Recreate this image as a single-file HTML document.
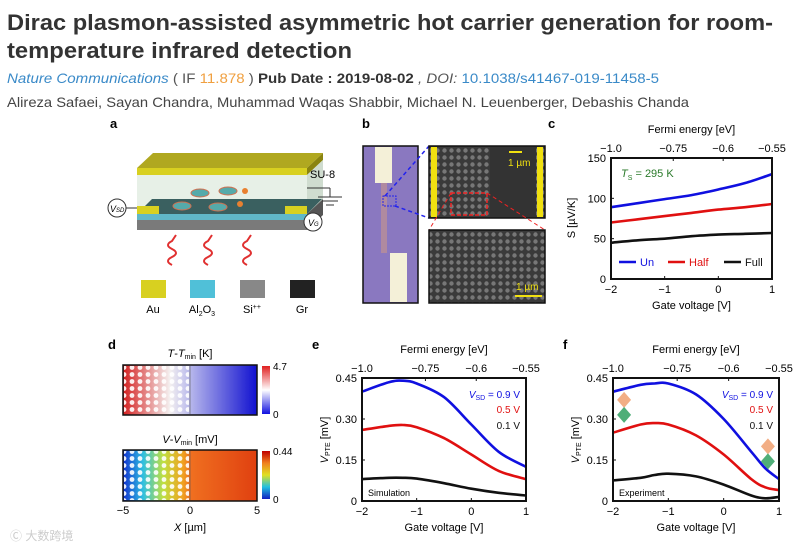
<!DOCTYPE html>
<html><head><meta charset="utf-8"><style>
body{margin:0;background:#fff}
svg text{font-family:"Liberation Sans","Noto Sans CJK SC",sans-serif}
</style></head><body>
<svg id="s" width="809" height="548" viewBox="0 0 809 548" xmlns="http://www.w3.org/2000/svg">
<defs>
<linearGradient id="gT" x1="0" x2="1"><stop offset="0" stop-color="#d42020"/><stop offset="0.35" stop-color="#f4f0f0"/><stop offset="0.5" stop-color="#b8b8ec"/><stop offset="1" stop-color="#1010d0"/></linearGradient>
<linearGradient id="gV" x1="0" x2="1"><stop offset="0" stop-color="#1030d0"/><stop offset="0.15" stop-color="#30c0e0"/><stop offset="0.3" stop-color="#c0e040"/><stop offset="0.45" stop-color="#f0a020"/><stop offset="0.5" stop-color="#f07020"/><stop offset="1" stop-color="#e04010"/></linearGradient>
<linearGradient id="cbT" x1="0" y1="0" x2="0" y2="1"><stop offset="0" stop-color="#e02020"/><stop offset="0.5" stop-color="#fff"/><stop offset="1" stop-color="#1010e0"/></linearGradient>
<linearGradient id="cbV" x1="0" y1="0" x2="0" y2="1"><stop offset="0" stop-color="#c00000"/><stop offset="0.25" stop-color="#f08020"/><stop offset="0.5" stop-color="#e0e020"/><stop offset="0.75" stop-color="#20c0e0"/><stop offset="1" stop-color="#1020c0"/></linearGradient>
<pattern id="holes" width="8" height="7" patternUnits="userSpaceOnUse"><circle cx="4" cy="3.5" r="2.4" fill="#fff" opacity="0.9"/></pattern>
<pattern id="sem" width="7" height="7" patternUnits="userSpaceOnUse"><rect width="7" height="7" fill="#3a3a3a"/><circle cx="3.5" cy="3.5" r="2.2" fill="#777"/></pattern>
</defs>
<!-- header -->
<text x="7" y="30" font-size="22" font-weight="bold" fill="#333" textLength="766" lengthAdjust="spacingAndGlyphs">Dirac plasmon-assisted asymmetric hot carrier generation for room-</text>
<text x="7" y="58" font-size="22" font-weight="bold" fill="#333" textLength="345" lengthAdjust="spacingAndGlyphs">temperature infrared detection</text>
<text x="7" y="83" font-size="14" textLength="652" lengthAdjust="spacingAndGlyphs"><tspan fill="#3a8ac8" font-style="italic">Nature Communications</tspan><tspan fill="#555"> ( IF </tspan><tspan fill="#f0a040">11.878</tspan><tspan fill="#555"> ) </tspan><tspan fill="#333" font-weight="bold">Pub Date : 2019-08-02</tspan><tspan fill="#555" font-style="italic"> , DOI: </tspan><tspan fill="#3a8ac8">10.1038/s41467-019-11458-5</tspan></text>
<text x="7" y="107" font-size="14" fill="#444" textLength="682" lengthAdjust="spacingAndGlyphs">Alireza Safaei, Sayan Chandra, Muhammad Waqas Shabbir, Michael N. Leuenberger, Debashis Chanda</text>

<!-- panel a -->
<g>
<text x="110" y="128" font-size="13" font-weight="bold">a</text>
<polygon points="153,153 323,153 307,168 137,168" fill="#b0a820"/>
<rect x="137" y="168" width="170" height="7" fill="#d8d020"/>
<polygon points="307,168 323,153 323,160 307,175" fill="#8a8410"/>
<rect x="137" y="175" width="170" height="32" fill="#e4eee4" opacity="0.9"/>
<polygon points="307,175 323,160 323,199 307,214" fill="#cfdccf"/>
<polygon points="152,199 322,199 307,214 137,214" fill="#3a6060"/>
<rect x="137" y="214" width="170" height="6" fill="#60b8c8"/>
<rect x="137" y="220" width="170" height="10" fill="#7a7a7a"/>
<polygon points="307,214 323,199 323,215 307,230" fill="#555"/>
<rect x="137" y="206" width="22" height="8" fill="#d8d020"/><rect x="285" y="206" width="22" height="8" fill="#d8d020"/>
<ellipse cx="182" cy="206" rx="9" ry="4" fill="#5aa" stroke="#d07050"/><ellipse cx="200" cy="193" rx="9" ry="4" fill="#5aa" stroke="#d07050"/><ellipse cx="218" cy="207" rx="9" ry="4" fill="#5aa" stroke="#d07050"/><ellipse cx="228" cy="191" rx="9" ry="4" fill="#5aa" stroke="#d07050"/>
<circle cx="240" cy="204" r="3" fill="#e88030"/><circle cx="245" cy="191" r="3" fill="#e88030"/>
<text x="310" y="178" font-size="11">SU-8</text>
<line x1="307" y1="188" x2="330" y2="188" stroke="#333"/><line x1="330" y1="188" x2="330" y2="197" stroke="#333"/>
<line x1="318" y1="197" x2="342" y2="197" stroke="#333"/><line x1="322" y1="201" x2="338" y2="201" stroke="#333"/><line x1="326" y1="205" x2="334" y2="205" stroke="#333"/>
<line x1="126" y1="208" x2="137" y2="208" stroke="#333"/>
<circle cx="117" cy="208" r="9" fill="#fff" stroke="#333"/><text x="110" y="212" font-size="9" font-style="italic">V<tspan font-size="6">SD</tspan></text>
<line x1="307" y1="222" x2="305" y2="222" stroke="#333"/>
<circle cx="313" cy="222" r="9" fill="#fff" stroke="#333"/><text x="308" y="226" font-size="9" font-style="italic">V<tspan font-size="6">G</tspan></text>
<g fill="none" stroke="#e03030" stroke-width="2">
<path d="M172,265 q-8,-4 0,-8 q8,-4 0,-8 q-8,-4 0,-8 l4,-6"/><path d="M208,265 q-8,-4 0,-8 q8,-4 0,-8 q-8,-4 0,-8 l4,-6"/><path d="M247,265 q-8,-4 0,-8 q8,-4 0,-8 q-8,-4 0,-8 l4,-6"/>
</g>
<rect x="141" y="280" width="25" height="18" fill="#d8d020"/><rect x="190" y="280" width="25" height="18" fill="#50c0d8"/><rect x="240" y="280" width="25" height="18" fill="#888"/><rect x="290" y="280" width="25" height="18" fill="#222"/>
<text x="153" y="313" font-size="11" text-anchor="middle">Au</text><text x="202" y="313" font-size="11" text-anchor="middle">Al<tspan font-size="7" dy="3">2</tspan><tspan dy="-3">O</tspan><tspan font-size="7" dy="3">3</tspan></text><text x="252" y="313" font-size="11" text-anchor="middle">Si<tspan font-size="7" dy="-4">++</tspan></text><text x="302" y="313" font-size="11" text-anchor="middle">Gr</text>
</g>

<!-- panel b -->
<g>
<text x="362" y="128" font-size="13" font-weight="bold">b</text>
<rect x="363" y="146" width="55" height="157" fill="#8a78c0" stroke="#111" stroke-width="1.5"/>
<rect x="375" y="147" width="17" height="36" fill="#f4f0d8"/><rect x="381" y="183" width="6" height="70" fill="#b08aa0"/><rect x="390" y="253" width="17" height="49" fill="#f4f0d8"/>
<rect x="383" y="196" width="13" height="10" fill="none" stroke="#22e" stroke-dasharray="2,1"/>
<line x1="385" y1="196" x2="429" y2="146" stroke="#22e" stroke-dasharray="4,3" stroke-width="1.5"/><line x1="395" y1="206" x2="429" y2="218" stroke="#22e" stroke-dasharray="4,3" stroke-width="1.5"/>
<rect x="429" y="146" width="116" height="72" fill="url(#sem)" stroke="#111" stroke-width="1.5"/>
<rect x="490" y="147" width="46" height="70" fill="#333"/>
<rect x="431" y="147" width="6" height="70" fill="#f0e010"/><rect x="537" y="147" width="6" height="70" fill="#f0e010"/>
<rect x="451" y="193" width="36" height="22" fill="none" stroke="#e22" stroke-dasharray="4,2" stroke-width="1.5"/>
<line x1="451" y1="193" x2="429" y2="230" stroke="#e22" stroke-dasharray="4,3"/><line x1="487" y1="193" x2="545" y2="230" stroke="#e22" stroke-dasharray="4,3"/>
<line x1="509" y1="152" x2="522" y2="152" stroke="#f0e010" stroke-width="2"/><text x="508" y="166" font-size="10" fill="#f0e010">1 µm</text>
<rect x="429" y="230" width="116" height="73" fill="url(#sem)" stroke="#111" stroke-width="1.5"/>
<line x1="515" y1="296" x2="542" y2="296" stroke="#f0e010" stroke-width="2"/><text x="516" y="290" font-size="10" fill="#f0e010">1 µm</text>
</g>

<!-- panel d -->
<g>
<text x="108" y="349" font-size="13" font-weight="bold">d</text>
<text x="190" y="357" font-size="11" text-anchor="middle"><tspan font-style="italic">T</tspan>-<tspan font-style="italic">T</tspan><tspan font-size="7" dy="2">min</tspan><tspan dy="-2"> [K]</tspan></text>
<rect x="123" y="365" width="134" height="50" fill="url(#gT)"/>
<rect x="124" y="366" width="65" height="48" fill="url(#holes)"/>
<line x1="190" y1="366" x2="190" y2="414" stroke="#555" stroke-width="0.6"/>
<rect x="123" y="365" width="134" height="50" fill="none" stroke="#111" stroke-width="1.5"/>
<rect x="262" y="366" width="8" height="48" fill="url(#cbT)"/>
<text x="273" y="370" font-size="10">4.7</text><text x="273" y="418" font-size="10">0</text>
<text x="190" y="443" font-size="11" text-anchor="middle"><tspan font-style="italic">V</tspan>-<tspan font-style="italic">V</tspan><tspan font-size="7" dy="2">min</tspan><tspan dy="-2"> [mV]</tspan></text>
<rect x="123" y="450" width="134" height="51" fill="url(#gV)"/>
<rect x="124" y="451" width="65" height="49" fill="url(#holes)"/>
<line x1="190" y1="451" x2="190" y2="500" stroke="#555" stroke-width="0.6"/>
<rect x="123" y="450" width="134" height="51" fill="none" stroke="#111" stroke-width="1.5"/>
<rect x="262" y="451" width="8" height="48" fill="url(#cbV)"/>
<text x="273" y="455" font-size="10">0.44</text><text x="273" y="503" font-size="10">0</text>
<text x="123" y="514" font-size="11" text-anchor="middle">−5</text><text x="190" y="514" font-size="11" text-anchor="middle">0</text><text x="257" y="514" font-size="11" text-anchor="middle">5</text>
<text x="190" y="531" font-size="11" text-anchor="middle"><tspan font-style="italic">X</tspan> [µm]</text>
</g>
<text x="10" y="540" font-size="12" fill="#ccc">Ⓒ 大数跨境</text>
<g id="charts"></g>
</svg>
<script>
// ---- panel c data ----
const cX = [-2, -1.5, -1, -0.5, 0, 0.5, 1];
const cUn = [89, 94, 99, 104, 111, 119, 130];
const cHalf = [70, 74, 78, 82, 86, 89, 93];
const cFull = [45, 48, 50, 53, 55, 56, 57];
const cYTicks = [0, 50, 100, 150];
const gateTicks = [-2, -1, 0, 1];
const fermiLabels = ["−1.0", "−0.75", "−0.6", "−0.55"];
const fermiPos = [-2, -0.84, 0.09, 1];
// ---- panel e data ----
const eX = [-2, -1.5, -1.25, -1, -0.5, 0, 0.5, 1];
const eBlue = [0.40, 0.435, 0.44, 0.43, 0.38, 0.28, 0.18, 0.125];
const eRed = [0.26, 0.275, 0.278, 0.27, 0.23, 0.17, 0.11, 0.08];
const eBlack = [0.08, 0.085, 0.085, 0.082, 0.065, 0.045, 0.03, 0.02];
// ---- panel f data ----
const fX = [-2, -1.5, -1.25, -1, -0.5, 0, 0.5, 0.75, 1];
const fBlue = [0.40, 0.425, 0.43, 0.43, 0.39, 0.30, 0.18, 0.12, 0.08];
const fRed = [0.25, 0.28, 0.285, 0.28, 0.24, 0.17, 0.08, 0.05, 0.04];
const fBlack = [0.075, 0.085, 0.095, 0.10, 0.09, 0.06, 0.02, 0.01, 0.015];
const vYTicks = [0, 0.15, 0.30, 0.45];
const vYLabels = ["0", "0.15", "0.30", "0.45"];

const NS = "http://www.w3.org/2000/svg";
const root = document.getElementById("charts");
function mk(tag, attrs, parent, txt) {
  const e = document.createElementNS(NS, tag);
  for (const k in attrs) e.setAttribute(k, attrs[k]);
  if (txt !== undefined) e.textContent = txt;
  (parent || root).appendChild(e);
  return e;
}
function panel(name, L, R, T, B, ymax, yTicks, yLabels) {
  const g = mk("g", {});
  
  
  const sx = v => L + (v + 2) / 3 * (R - L);
  const sy = v => B - v / ymax * (B - T);
  yTicks.forEach((t, i) => {
    mk("line", {x1: L, x2: L + 3, y1: sy(t), y2: sy(t), stroke: "#111"}, g);
    const tx = mk("text", {x: L - 5, y: sy(t) + 4, "font-size": 11, "text-anchor": "end"}, g, yLabels[i]);
    
    
  });
  gateTicks.forEach(t => {
    mk("line", {x1: sx(t), x2: sx(t), y1: B, y2: B - 3, stroke: "#111"}, g);
    const tx = mk("text", {x: sx(t), y: B + 14, "font-size": 11, "text-anchor": "middle"}, g, t < 0 ? "−" + (-t) : String(t));
    
    
  });
  fermiPos.forEach((p, i) => {
    mk("line", {x1: sx(p), x2: sx(p), y1: T, y2: T + 3, stroke: "#111"}, g);
    const tx = mk("text", {x: sx(p), y: T - 6, "font-size": 11, "text-anchor": "middle"}, g, fermiLabels[i]);
    
    
  });
  const ft = mk("text", {x: (L + R) / 2, y: T - 25, "font-size": 11, "text-anchor": "middle"}, g, "Fermi energy [eV]");
  
  
  const xt = mk("text", {x: (L + R) / 2, y: B + 30, "font-size": 11, "text-anchor": "middle"}, g, "Gate voltage [V]");
  
  
  return {g, sx, sy, L, R, T, B};
}
function series(p, xs, ys, color, name) {
  const pts = xs.map((x, i) => [p.sx(x), p.sy(ys[i])]);
  let d = "M" + pts[0][0].toFixed(1) + "," + pts[0][1].toFixed(1);
  for (let i = 0; i < pts.length - 1; i++) {
    const p0 = pts[i - 1] || pts[i], p1 = pts[i], p2 = pts[i + 1], p3 = pts[i + 2] || p2;
    const c1 = [p1[0] + (p2[0] - p0[0]) / 6, p1[1] + (p2[1] - p0[1]) / 6];
    const c2 = [p2[0] - (p3[0] - p1[0]) / 6, p2[1] - (p3[1] - p1[1]) / 6];
    d += " C" + c1.map(v => v.toFixed(1)).join(",") + " " + c2.map(v => v.toFixed(1)).join(",") + " " + p2.map(v => v.toFixed(1)).join(",");
  }
  const path = mk("path", {d: d, fill: "none", stroke: color, "stroke-width": 2.6, "stroke-linejoin": "round"}, p.g);
  
  
}
function frame(p) { mk("rect", {x: p.L, y: p.T, width: p.R - p.L, height: p.B - p.T, fill: "none", stroke: "#111", "stroke-width": 2}, p.g); }

// panel c
const pc = panel("panel-c-seebeck-chart", 611, 772, 158, 279, 150, cYTicks, cYTicks.map(String));
mk("text", {x: 548, y: 128, "font-size": 13, "font-weight": "bold"}, pc.g, "c");
series(pc, cX, cUn, "#1010e0", "series-un");
series(pc, cX, cHalf, "#e01010", "series-half");
series(pc, cX, cFull, "#111", "series-full");
frame(pc);
mk("text", {x: 621, y: 177, "font-size": 11, fill: "#2a7a2a"}, pc.g).innerHTML = '<tspan font-style="italic">T</tspan><tspan font-size="7" dy="3">S</tspan><tspan dy="-3"> = 295 K</tspan>';
const yc = mk("text", {x: 575, y: 218, "font-size": 11, "text-anchor": "middle", transform: "rotate(-90 575 218)"}, pc.g, "S [µV/K]");


[["Un", "#1010e0", 619], ["Half", "#e01010", 668], ["Full", "#111", 724]].forEach(([t, c, x]) => {
  const lg = mk("g", {}, pc.g);
  
  
  mk("line", {x1: x, x2: x + 17, y1: 262, y2: 262, stroke: c, "stroke-width": 2.5}, lg);
  mk("text", {x: x + 21, y: 266, "font-size": 11, fill: c}, lg, t);
});

// panels e and f
function vpanel(name, letter, L, R, xs, b, r, k, note) {
  const p = panel(name, L, R, 378, 501, 0.45, vYTicks, vYLabels);
  mk("text", {x: L - 50, y: 349, "font-size": 13, "font-weight": "bold"}, p.g, letter);
  series(p, xs, b, "#1010e0", "series-0.9v");
  series(p, xs, r, "#e01010", "series-0.5v");
  series(p, xs, k, "#111", "series-0.1v");
  frame(p);
  const yt = mk("text", {x: L - 34, y: 440, "font-size": 11, "text-anchor": "middle", transform: `rotate(-90 ${L - 34} 440)`}, p.g);
  yt.innerHTML = '<tspan font-style="italic">V</tspan><tspan font-size="7" dy="2">PTE</tspan><tspan dy="-2"> [mV]</tspan>';
  
  
  const l1 = mk("text", {x: R - 6, y: 398, "font-size": 10, "text-anchor": "end", fill: "#1010e0"}, p.g);
  l1.innerHTML = '<tspan font-style="italic">V</tspan><tspan font-size="7" dy="2">SD</tspan><tspan dy="-2"> = 0.9 V</tspan>';
  mk("text", {x: R - 6, y: 413, "font-size": 10, "text-anchor": "end", fill: "#e01010"}, p.g, "0.5 V");
  mk("text", {x: R - 6, y: 429, "font-size": 10, "text-anchor": "end", fill: "#111"}, p.g, "0.1 V");
  mk("text", {x: L + 6, y: 496, "font-size": 9}, p.g, note);
  return p;
}
vpanel("panel-e-simulation-chart", "e", 362, 526, eX, eBlue, eRed, eBlack, "Simulation");
const pf = vpanel("panel-f-experiment-chart", "f", 613, 779, fX, fBlue, fRed, fBlack, "Experiment");
function diamond(x, y, c) { mk("polygon", {points: `${x},${y - 8} ${x + 7},${y} ${x},${y + 8} ${x - 7},${y}`, fill: c, opacity: 0.85}, pf.g); }
diamond(pf.sx(-1.8), pf.sy(0.37), "#f0a070");
diamond(pf.sx(-1.8), pf.sy(0.315), "#30a060");
diamond(pf.sx(0.8), pf.sy(0.2), "#f0a070");
diamond(pf.sx(0.8), pf.sy(0.145), "#30a060");
</script>
</body></html>
